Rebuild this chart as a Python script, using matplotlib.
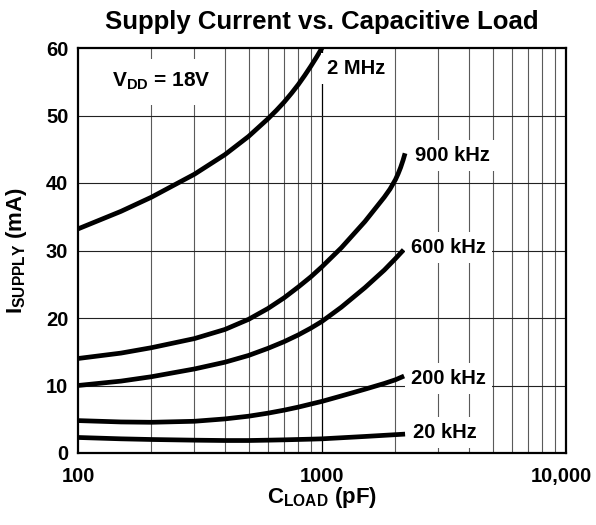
import matplotlib
matplotlib.use("Agg")
import matplotlib.pyplot as plt
from matplotlib.ticker import FixedLocator, NullFormatter
from matplotlib.transforms import ScaledTranslation

plt.rcParams["font.family"] = ["Liberation Sans", "DejaVu Sans"]
plt.rcParams["font.weight"] = "bold"
plt.rcParams["mathtext.fontset"] = "custom"
plt.rcParams["mathtext.bf"] = "Liberation Sans:bold"
plt.rcParams["mathtext.rm"] = "Liberation Sans:bold"
plt.rcParams["mathtext.default"] = "bf"

# values (C_LOAD in pF, I_SUPPLY in mA)
x_2mhz = [100, 150, 200, 300, 400, 500, 600, 650, 700, 750, 800, 850, 900, 950, 1000]
y_2mhz = [33.2, 35.8, 37.9, 41.3, 44.2, 46.9, 49.5, 50.75, 52.0, 53.3, 54.6, 55.95, 57.3, 58.65, 60.0]

x_900k = [100, 150, 200, 300, 400, 500, 600, 700, 800, 900, 1000, 1200, 1500, 1800, 1900,
          2000, 2050, 2100, 2150, 2190]
y_900k = [14.0, 14.8, 15.6, 16.95, 18.3, 19.8, 21.4, 23.0, 24.6, 26.1, 27.6, 30.4, 34.3, 37.9, 39.1,
          40.5, 41.35, 42.3, 43.4, 44.4]

x_600k = [100, 150, 200, 300, 400, 500, 600, 700, 800, 900, 1000, 1200, 1500, 1800, 2000, 2160]
y_600k = [10.0, 10.65, 11.3, 12.45, 13.45, 14.45, 15.5, 16.5, 17.5, 18.5, 19.5, 21.6, 24.5, 27.1, 28.8, 30.1]

x_200k = [100, 150, 200, 300, 400, 500, 600, 700, 800, 900, 1000, 1200, 1500, 1800, 2000, 2170]
y_200k = [4.8, 4.6, 4.55, 4.7, 5.05, 5.45, 5.9, 6.35, 6.8, 7.25, 7.65, 8.45, 9.45, 10.3, 10.85, 11.4]

x_20k = [100, 150, 200, 300, 400, 500, 600, 700, 900, 1000, 1500, 2190]
y_20k = [2.3, 2.1, 2.0, 1.9, 1.85, 1.85, 1.9, 1.95, 2.05, 2.1, 2.45, 2.8]

curves = [(x_2mhz, y_2mhz), (x_900k, y_900k), (x_600k, y_600k), (x_200k, y_200k), (x_20k, y_20k)]

# curve labels: (text, x, y)
labels = [("2 MHz", 1048, 57.0), ("900 kHz", 2405, 44.1), ("600 kHz", 2317, 30.5),
          ("200 kHz", 2317, 11.1), ("20 kHz", 2350, 3.1)]

x_ticks = [100, 1000, 10000]
x_ticklabels = ["100", "1000", "10,000"]
y_ticks = [0, 10, 20, 30, 40, 50, 60]

fig = plt.figure(figsize=(5.96, 5.25), dpi=100)
ax = fig.add_axes([78 / 596, 1 - 453 / 525, 488 / 596, 405 / 525])
ax.set_xscale("log")
ax.set_xlim(100, 10000)
ax.set_ylim(0, 60)

# grid
for dec in (100, 1000):
    for k in range(2, 10):
        ax.axvline(dec * k, color="#5a5a5a", lw=0.8, zorder=1)
ax.axvline(1000, color="black", lw=0.9, zorder=1)
for yv in y_ticks[1:-1]:
    ax.axhline(yv, color="#222222", lw=0.8, zorder=1)

for xs, ys in curves:
    ax.plot(xs, ys, color="black", lw=3.4, solid_capstyle="butt", solid_joinstyle="round", zorder=3)

for txt, lx, ly in labels:
    ax.text(lx, ly, txt, fontsize=14.5, fontweight="bold", ha="left", va="center", zorder=4,
            bbox=dict(boxstyle="square,pad=0.3", fc="white", ec="none"))

ax.text(220, 55.0, r"$V_{DD}$ = 18V", fontsize=15, fontweight="bold", ha="center", va="center",
        zorder=4, bbox=dict(boxstyle="square,pad=0.6", fc="white", ec="none"))

ax.xaxis.set_major_locator(FixedLocator(x_ticks))
ax.set_xticklabels(x_ticklabels)
ax.xaxis.set_minor_formatter(NullFormatter())
ax.tick_params(axis="x", which="both", length=0, pad=10, labelsize=14.5)
ax.set_yticks(y_ticks)
ax.tick_params(axis="y", length=0, pad=7, labelsize=14.5)
for lab in ax.get_xticklabels() + ax.get_yticklabels():
    lab.set_fontweight("bold")
last = ax.get_xticklabels()[-1]
last.set_transform(last.get_transform() + ScaledTranslation(-5 / 100, 0, fig.dpi_scale_trans))

for sp in ax.spines.values():
    sp.set_linewidth(1.6)
    sp.set_zorder(5)

fig.text(322 / 596, 1 - 22 / 525, "Supply Current vs. Capacitive Load", fontsize=18.5,
         fontweight="bold", ha="center", va="center")
fig.text(322 / 596, 1 - 497 / 525, r"$C_{LOAD}$ (pF)", fontsize=16, fontweight="bold",
         ha="center", va="center")
fig.text(17 / 596, 1 - 250 / 525, r"$I_{SUPPLY}$ (mA)", fontsize=16, fontweight="bold",
         ha="center", va="center", rotation=90)

fig.savefig("out.png", dpi=100)
